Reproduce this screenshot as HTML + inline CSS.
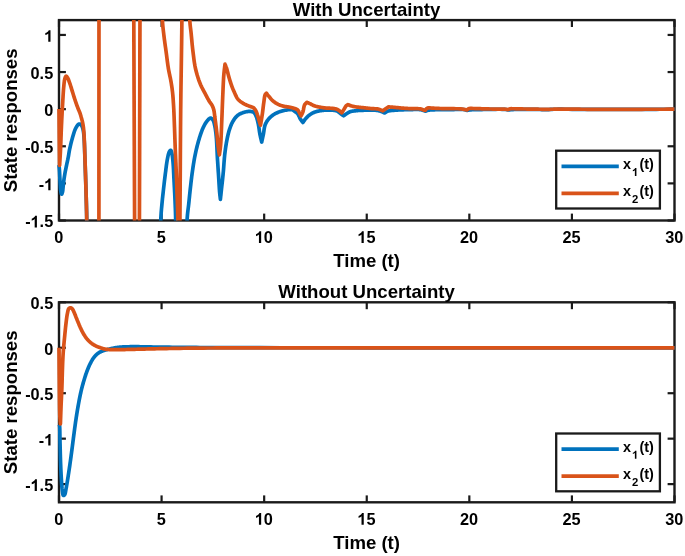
<!DOCTYPE html>
<html><head><meta charset="utf-8"><style>
html,body{margin:0;padding:0;background:#fff;width:685px;height:556px;overflow:hidden}
svg{display:block;will-change:transform}
text{font-family:"Liberation Sans",sans-serif;font-weight:bold;fill:#000}
.tk{font-size:16.3px}
.tl{font-size:18.6px}
.lg{font-size:14.4px}
.sb{font-size:11.3px}
</style></head><body>
<svg width="685" height="556" viewBox="0 0 685 556">
<defs>
<clipPath id="c1"><rect x="40" y="20.1" width="640" height="200.4"/></clipPath>
<clipPath id="c2"><rect x="40" y="302.3" width="640" height="200.0"/></clipPath>
</defs>
<rect x="59.0" y="20.1" width="615.5" height="200.4" fill="#fff" stroke="#1a1a1a" stroke-width="2.4"/>
<line x1="59.00" y1="220.5" x2="59.00" y2="213.6" stroke="#1a1a1a" stroke-width="2.2"/>
<line x1="59.00" y1="20.1" x2="59.00" y2="27.0" stroke="#1a1a1a" stroke-width="2.2"/>
<text x="58.70" y="242.90" class="tk" text-anchor="middle">0</text>
<line x1="161.58" y1="220.5" x2="161.58" y2="213.6" stroke="#1a1a1a" stroke-width="2.2"/>
<line x1="161.58" y1="20.1" x2="161.58" y2="27.0" stroke="#1a1a1a" stroke-width="2.2"/>
<text x="161.28" y="242.90" class="tk" text-anchor="middle">5</text>
<line x1="264.17" y1="220.5" x2="264.17" y2="213.6" stroke="#1a1a1a" stroke-width="2.2"/>
<line x1="264.17" y1="20.1" x2="264.17" y2="27.0" stroke="#1a1a1a" stroke-width="2.2"/>
<text x="263.87" y="242.90" class="tk" text-anchor="middle"> 0</text>
<path d="M800 0L520 0L520 1052C440 977 300 893 150 848L150 1102C230 1128 320 1175 410 1245C500 1315 555 1390 580 1466L800 1466Z" transform="translate(254.80,242.90) scale(0.00796,-0.00796)" fill="#000"/>
<line x1="366.75" y1="220.5" x2="366.75" y2="213.6" stroke="#1a1a1a" stroke-width="2.2"/>
<line x1="366.75" y1="20.1" x2="366.75" y2="27.0" stroke="#1a1a1a" stroke-width="2.2"/>
<text x="366.45" y="242.90" class="tk" text-anchor="middle"> 5</text>
<path d="M800 0L520 0L520 1052C440 977 300 893 150 848L150 1102C230 1128 320 1175 410 1245C500 1315 555 1390 580 1466L800 1466Z" transform="translate(357.38,242.90) scale(0.00796,-0.00796)" fill="#000"/>
<line x1="469.33" y1="220.5" x2="469.33" y2="213.6" stroke="#1a1a1a" stroke-width="2.2"/>
<line x1="469.33" y1="20.1" x2="469.33" y2="27.0" stroke="#1a1a1a" stroke-width="2.2"/>
<text x="469.03" y="242.90" class="tk" text-anchor="middle">20</text>
<line x1="571.92" y1="220.5" x2="571.92" y2="213.6" stroke="#1a1a1a" stroke-width="2.2"/>
<line x1="571.92" y1="20.1" x2="571.92" y2="27.0" stroke="#1a1a1a" stroke-width="2.2"/>
<text x="571.62" y="242.90" class="tk" text-anchor="middle">25</text>
<line x1="674.50" y1="220.5" x2="674.50" y2="213.6" stroke="#1a1a1a" stroke-width="2.2"/>
<line x1="674.50" y1="20.1" x2="674.50" y2="27.0" stroke="#1a1a1a" stroke-width="2.2"/>
<text x="674.20" y="242.90" class="tk" text-anchor="middle">30</text>
<line x1="59.0" y1="34.94" x2="65.9" y2="34.94" stroke="#1a1a1a" stroke-width="2.2"/>
<line x1="674.5" y1="34.94" x2="667.6" y2="34.94" stroke="#1a1a1a" stroke-width="2.2"/>
<text x="53.20" y="41.84" class="tk" text-anchor="end"> </text>
<path d="M800 0L520 0L520 1052C440 977 300 893 150 848L150 1102C230 1128 320 1175 410 1245C500 1315 555 1390 580 1466L800 1466Z" transform="translate(44.13,41.84) scale(0.00796,-0.00796)" fill="#000"/>
<line x1="59.0" y1="72.06" x2="65.9" y2="72.06" stroke="#1a1a1a" stroke-width="2.2"/>
<line x1="674.5" y1="72.06" x2="667.6" y2="72.06" stroke="#1a1a1a" stroke-width="2.2"/>
<text x="53.20" y="78.96" class="tk" text-anchor="end">0.5</text>
<line x1="59.0" y1="109.17" x2="65.9" y2="109.17" stroke="#1a1a1a" stroke-width="2.2"/>
<line x1="674.5" y1="109.17" x2="667.6" y2="109.17" stroke="#1a1a1a" stroke-width="2.2"/>
<text x="53.20" y="116.07" class="tk" text-anchor="end">0</text>
<line x1="59.0" y1="146.28" x2="65.9" y2="146.28" stroke="#1a1a1a" stroke-width="2.2"/>
<line x1="674.5" y1="146.28" x2="667.6" y2="146.28" stroke="#1a1a1a" stroke-width="2.2"/>
<text x="53.20" y="153.18" class="tk" text-anchor="end">-0.5</text>
<line x1="59.0" y1="183.39" x2="65.9" y2="183.39" stroke="#1a1a1a" stroke-width="2.2"/>
<line x1="674.5" y1="183.39" x2="667.6" y2="183.39" stroke="#1a1a1a" stroke-width="2.2"/>
<text x="53.20" y="190.29" class="tk" text-anchor="end">- </text>
<path d="M800 0L520 0L520 1052C440 977 300 893 150 848L150 1102C230 1128 320 1175 410 1245C500 1315 555 1390 580 1466L800 1466Z" transform="translate(44.13,190.29) scale(0.00796,-0.00796)" fill="#000"/>
<line x1="59.0" y1="220.50" x2="65.9" y2="220.50" stroke="#1a1a1a" stroke-width="2.2"/>
<line x1="674.5" y1="220.50" x2="667.6" y2="220.50" stroke="#1a1a1a" stroke-width="2.2"/>
<text x="53.20" y="227.40" class="tk" text-anchor="end">- .5</text>
<path d="M800 0L520 0L520 1052C440 977 300 893 150 848L150 1102C230 1128 320 1175 410 1245C500 1315 555 1390 580 1466L800 1466Z" transform="translate(30.54,227.40) scale(0.00796,-0.00796)" fill="#000"/>
<text x="366.6" y="15.50" class="tl" text-anchor="middle">With Uncertainty</text>
<text x="366.6" y="266.90" class="tl" text-anchor="middle">Time (t)</text>
<text x="0" y="0" class="tl" text-anchor="middle" transform="translate(16.6,120.30) rotate(-90)">State responses</text>
<path d="M59.00,165.00 L59.04,165.50 L59.09,166.00 L59.13,166.50 L59.17,167.00 L59.22,167.50 L59.26,168.00 L59.31,168.50 L59.35,169.00 L59.39,169.50 L59.43,170.00 L59.47,170.50 L59.50,171.00 L59.53,171.50 L59.56,171.99 L59.59,172.49 L59.61,172.98 L59.64,173.48 L59.66,173.97 L59.68,174.47 L59.70,174.97 L59.72,175.47 L59.75,175.97 L59.77,176.48 L59.80,177.00 L59.83,177.57 L59.86,178.14 L59.89,178.72 L59.92,179.30 L59.95,179.89 L59.99,180.48 L60.02,181.07 L60.05,181.67 L60.09,182.26 L60.13,182.84 L60.16,183.42 L60.20,184.00 L60.24,184.56 L60.27,185.12 L60.30,185.69 L60.33,186.25 L60.36,186.82 L60.39,187.38 L60.43,187.94 L60.47,188.48 L60.52,189.01 L60.57,189.53 L60.63,190.02 L60.70,190.50 L60.76,190.87 L60.82,191.26 L60.89,191.67 L60.96,192.08 L61.03,192.49 L61.11,192.87 L61.18,193.23 L61.26,193.54 L61.35,193.81 L61.43,194.02 L61.51,194.15 L61.60,194.20 L61.67,194.18 L61.74,194.11 L61.82,194.00 L61.90,193.85 L61.98,193.66 L62.06,193.46 L62.14,193.23 L62.22,192.99 L62.30,192.74 L62.37,192.49 L62.44,192.24 L62.50,192.00 L62.59,191.61 L62.67,191.18 L62.74,190.72 L62.80,190.23 L62.86,189.72 L62.91,189.19 L62.95,188.66 L63.00,188.11 L63.05,187.57 L63.09,187.04 L63.14,186.51 L63.20,186.00 L63.26,185.50 L63.31,185.01 L63.37,184.51 L63.42,184.02 L63.48,183.52 L63.53,183.03 L63.59,182.53 L63.64,182.03 L63.70,181.53 L63.77,181.03 L63.83,180.52 L63.90,180.00 L63.98,179.43 L64.06,178.86 L64.14,178.29 L64.23,177.70 L64.32,177.12 L64.41,176.53 L64.50,175.94 L64.60,175.35 L64.70,174.76 L64.80,174.17 L64.90,173.58 L65.00,173.00 L65.11,172.42 L65.21,171.84 L65.32,171.26 L65.44,170.69 L65.55,170.12 L65.67,169.54 L65.79,168.96 L65.91,168.38 L66.03,167.80 L66.15,167.21 L66.27,166.61 L66.40,166.00 L66.54,165.32 L66.69,164.63 L66.84,163.93 L66.99,163.23 L67.15,162.52 L67.30,161.81 L67.46,161.09 L67.61,160.37 L67.77,159.65 L67.91,158.93 L68.06,158.21 L68.20,157.50 L68.33,156.79 L68.46,156.09 L68.58,155.38 L68.69,154.68 L68.80,153.98 L68.91,153.28 L69.03,152.57 L69.14,151.86 L69.27,151.14 L69.40,150.40 L69.54,149.66 L69.70,148.90 L69.90,147.99 L70.11,147.04 L70.33,146.07 L70.56,145.09 L70.80,144.09 L71.04,143.09 L71.30,142.09 L71.55,141.09 L71.81,140.11 L72.08,139.15 L72.34,138.21 L72.60,137.30 L72.83,136.52 L73.05,135.75 L73.28,134.97 L73.50,134.21 L73.73,133.45 L73.96,132.71 L74.20,131.98 L74.44,131.27 L74.69,130.58 L74.95,129.93 L75.22,129.30 L75.50,128.70 L75.72,128.26 L75.95,127.82 L76.19,127.38 L76.43,126.95 L76.68,126.54 L76.93,126.14 L77.18,125.77 L77.44,125.42 L77.68,125.10 L77.93,124.83 L78.17,124.59 L78.40,124.40 L78.52,124.32 L78.64,124.24 L78.76,124.18 L78.88,124.12 L79.00,124.08 L79.11,124.04 L79.23,124.01 L79.34,123.99 L79.46,123.98 L79.57,123.98 L79.69,123.98 L79.80,124.00 L79.92,124.03 L80.04,124.07 L80.17,124.13 L80.29,124.19 L80.41,124.27 L80.53,124.35 L80.65,124.45 L80.76,124.55 L80.88,124.66 L80.99,124.77 L81.10,124.88 L81.20,125.00 L81.33,125.16 L81.45,125.33 L81.57,125.51 L81.69,125.70 L81.80,125.90 L81.91,126.11 L82.02,126.33 L82.12,126.55 L82.22,126.78 L82.32,127.02 L82.41,127.26 L82.50,127.50 L82.61,127.82 L82.71,128.14 L82.81,128.48 L82.90,128.82 L82.99,129.18 L83.07,129.54 L83.15,129.92 L83.22,130.31 L83.29,130.71 L83.36,131.13 L83.43,131.56 L83.50,132.00 L83.60,132.69 L83.68,133.41 L83.76,134.16 L83.84,134.95 L83.90,135.76 L83.97,136.60 L84.03,137.46 L84.08,138.34 L84.14,139.24 L84.19,140.15 L84.25,141.07 L84.30,142.00 L84.37,143.18 L84.42,144.38 L84.48,145.61 L84.53,146.85 L84.58,148.12 L84.62,149.42 L84.66,150.75 L84.71,152.12 L84.75,153.52 L84.80,154.97 L84.85,156.46 L84.90,158.00 L84.98,160.30 L85.07,162.74 L85.16,165.29 L85.26,167.95 L85.35,170.68 L85.45,173.47 L85.55,176.29 L85.64,179.14 L85.74,181.98 L85.83,184.80 L85.92,187.58 L86.00,190.30 L86.08,192.93 L86.15,195.52 L86.23,198.09 L86.30,200.65 L86.38,203.20 L86.44,205.76 L86.51,208.34 L86.58,210.96 L86.64,213.62 L86.69,216.34 L86.75,219.13 L86.80,222.00 L86.86,225.65 L86.90,229.43 L86.95,233.30 L86.98,237.26 L87.01,241.30 L87.04,245.38 L87.07,249.50 L87.09,253.63 L87.12,257.77 L87.14,261.89 L87.17,265.97 L87.20,270.00 L93.31,270.00 L99.42,270.00 L105.53,270.00 L111.63,270.00 L117.74,270.00 L123.85,270.00 L129.96,270.00 L136.07,270.00 L142.18,270.00 L148.28,270.00 L154.39,270.00 L160.50,270.00 L160.52,265.69 L160.52,261.24 L160.52,256.68 L160.51,252.08 L160.51,247.47 L160.50,242.92 L160.51,238.46 L160.53,234.15 L160.56,230.04 L160.61,226.18 L160.69,222.62 L160.80,219.40 L160.87,217.76 L160.95,216.22 L161.04,214.78 L161.13,213.42 L161.22,212.12 L161.33,210.86 L161.43,209.64 L161.54,208.44 L161.65,207.23 L161.77,206.02 L161.88,204.78 L162.00,203.50 L162.12,202.23 L162.24,200.96 L162.37,199.70 L162.49,198.44 L162.63,197.18 L162.76,195.92 L162.90,194.67 L163.04,193.42 L163.18,192.16 L163.32,190.91 L163.46,189.66 L163.60,188.40 L163.74,187.14 L163.89,185.87 L164.03,184.61 L164.18,183.34 L164.33,182.07 L164.47,180.80 L164.63,179.53 L164.78,178.27 L164.93,177.02 L165.09,175.77 L165.24,174.53 L165.40,173.30 L165.55,172.13 L165.70,170.95 L165.84,169.76 L165.99,168.57 L166.14,167.39 L166.29,166.22 L166.44,165.06 L166.60,163.93 L166.77,162.82 L166.94,161.74 L167.11,160.70 L167.30,159.70 L167.45,158.94 L167.59,158.18 L167.74,157.41 L167.89,156.66 L168.05,155.92 L168.21,155.20 L168.37,154.51 L168.54,153.87 L168.72,153.26 L168.90,152.71 L169.10,152.22 L169.30,151.80 L169.41,151.61 L169.52,151.41 L169.64,151.23 L169.76,151.05 L169.89,150.88 L170.01,150.73 L170.13,150.59 L170.25,150.48 L170.37,150.39 L170.49,150.33 L170.60,150.30 L170.70,150.30 L170.83,150.36 L170.95,150.49 L171.06,150.67 L171.17,150.90 L171.27,151.17 L171.37,151.47 L171.46,151.81 L171.56,152.16 L171.64,152.52 L171.73,152.89 L171.82,153.25 L171.90,153.60 L172.03,154.15 L172.14,154.73 L172.25,155.34 L172.35,155.99 L172.44,156.66 L172.53,157.35 L172.61,158.07 L172.69,158.82 L172.77,159.58 L172.85,160.37 L172.92,161.18 L173.00,162.00 L173.11,163.26 L173.21,164.59 L173.30,166.00 L173.39,167.46 L173.47,168.97 L173.55,170.51 L173.62,172.09 L173.70,173.68 L173.77,175.27 L173.84,176.87 L173.92,178.45 L174.00,180.00 L174.09,181.63 L174.17,183.27 L174.26,184.91 L174.35,186.57 L174.44,188.23 L174.52,189.90 L174.61,191.58 L174.69,193.26 L174.77,194.94 L174.85,196.63 L174.93,198.31 L175.00,200.00 L175.07,201.70 L175.14,203.37 L175.21,205.01 L175.27,206.64 L175.34,208.27 L175.40,209.92 L175.45,211.60 L175.51,213.33 L175.56,215.12 L175.61,216.99 L175.66,218.94 L175.70,221.00 L175.76,224.37 L175.80,227.98 L175.84,231.81 L175.87,235.82 L175.89,239.97 L175.91,244.22 L175.92,248.55 L175.93,252.91 L175.95,257.27 L175.96,261.60 L175.98,265.85 L176.00,270.00 L176.91,270.00 L177.82,270.00 L178.73,270.00 L179.63,270.00 L180.54,270.00 L181.45,270.00 L182.36,270.00 L183.27,270.00 L184.18,270.00 L185.08,270.00 L185.99,270.00 L186.90,270.00 L186.91,265.73 L186.89,261.32 L186.87,256.81 L186.84,252.26 L186.81,247.70 L186.78,243.19 L186.77,238.78 L186.77,234.51 L186.80,230.43 L186.86,226.59 L186.96,223.03 L187.10,219.80 L187.20,218.11 L187.32,216.52 L187.45,215.02 L187.58,213.59 L187.73,212.23 L187.88,210.92 L188.04,209.64 L188.20,208.39 L188.36,207.14 L188.51,205.88 L188.66,204.61 L188.80,203.30 L188.93,202.06 L189.05,200.84 L189.17,199.63 L189.29,198.43 L189.41,197.24 L189.53,196.05 L189.65,194.86 L189.78,193.67 L189.90,192.47 L190.03,191.26 L190.16,190.04 L190.30,188.80 L190.45,187.46 L190.60,186.10 L190.76,184.73 L190.91,183.35 L191.07,181.96 L191.23,180.57 L191.40,179.17 L191.57,177.77 L191.74,176.37 L191.92,174.98 L192.11,173.59 L192.30,172.20 L192.50,170.81 L192.70,169.42 L192.90,168.02 L193.11,166.62 L193.32,165.22 L193.54,163.82 L193.77,162.43 L194.00,161.04 L194.24,159.66 L194.48,158.29 L194.74,156.94 L195.00,155.60 L195.26,154.35 L195.52,153.10 L195.79,151.87 L196.06,150.64 L196.34,149.41 L196.63,148.20 L196.92,146.99 L197.22,145.80 L197.53,144.61 L197.85,143.43 L198.17,142.26 L198.50,141.10 L198.82,140.01 L199.14,138.92 L199.46,137.83 L199.80,136.75 L200.13,135.67 L200.48,134.60 L200.83,133.55 L201.19,132.52 L201.56,131.52 L201.93,130.54 L202.31,129.60 L202.70,128.70 L203.02,128.00 L203.34,127.31 L203.66,126.63 L203.99,125.97 L204.32,125.32 L204.66,124.69 L205.00,124.08 L205.35,123.50 L205.70,122.93 L206.06,122.39 L206.43,121.88 L206.80,121.40 L207.09,121.03 L207.40,120.66 L207.71,120.28 L208.02,119.91 L208.34,119.56 L208.66,119.22 L208.98,118.92 L209.30,118.65 L209.61,118.43 L209.92,118.26 L210.21,118.14 L210.50,118.10 L210.73,118.12 L210.95,118.17 L211.18,118.27 L211.41,118.40 L211.63,118.56 L211.84,118.74 L212.06,118.94 L212.26,119.16 L212.46,119.39 L212.65,119.62 L212.83,119.86 L213.00,120.10 L213.20,120.41 L213.37,120.74 L213.53,121.09 L213.68,121.46 L213.81,121.85 L213.94,122.25 L214.05,122.68 L214.16,123.11 L214.27,123.57 L214.38,124.03 L214.49,124.51 L214.60,125.00 L214.77,125.75 L214.93,126.53 L215.08,127.34 L215.22,128.19 L215.36,129.07 L215.49,129.98 L215.62,130.92 L215.75,131.88 L215.86,132.88 L215.98,133.89 L216.09,134.94 L216.20,136.00 L216.34,137.56 L216.47,139.21 L216.58,140.95 L216.68,142.75 L216.78,144.60 L216.87,146.49 L216.95,148.40 L217.03,150.32 L217.12,152.23 L217.21,154.13 L217.30,155.99 L217.40,157.80 L217.50,159.52 L217.61,161.25 L217.72,162.99 L217.83,164.73 L217.94,166.46 L218.06,168.18 L218.17,169.88 L218.28,171.57 L218.39,173.23 L218.50,174.86 L218.60,176.45 L218.70,178.00 L218.78,179.27 L218.86,180.53 L218.93,181.79 L219.00,183.02 L219.07,184.24 L219.15,185.44 L219.22,186.62 L219.29,187.76 L219.36,188.88 L219.44,189.96 L219.52,191.00 L219.60,192.00 L219.66,192.69 L219.73,193.35 L219.79,193.99 L219.86,194.61 L219.92,195.21 L219.99,195.80 L220.06,196.38 L220.13,196.95 L220.20,197.53 L220.27,198.11 L220.33,198.70 L220.40,199.30 L220.50,198.35 L220.60,197.39 L220.70,196.43 L220.81,195.46 L220.91,194.49 L221.01,193.53 L221.11,192.57 L221.21,191.62 L221.31,190.69 L221.41,189.77 L221.50,188.87 L221.60,188.00 L221.68,187.29 L221.76,186.59 L221.83,185.91 L221.91,185.25 L221.98,184.59 L222.06,183.94 L222.13,183.30 L222.21,182.65 L222.28,182.00 L222.35,181.34 L222.43,180.68 L222.50,180.00 L222.58,179.28 L222.65,178.56 L222.73,177.85 L222.80,177.15 L222.87,176.43 L222.95,175.71 L223.02,174.98 L223.09,174.23 L223.17,173.46 L223.24,172.67 L223.32,171.85 L223.40,171.00 L223.51,169.77 L223.61,168.46 L223.71,167.09 L223.81,165.68 L223.92,164.22 L224.02,162.74 L224.13,161.25 L224.25,159.76 L224.37,158.27 L224.51,156.81 L224.65,155.38 L224.80,154.00 L224.95,152.75 L225.11,151.50 L225.27,150.26 L225.43,149.03 L225.61,147.80 L225.79,146.58 L225.97,145.38 L226.16,144.19 L226.36,143.02 L226.57,141.86 L226.78,140.72 L227.00,139.60 L227.20,138.64 L227.39,137.68 L227.59,136.74 L227.79,135.81 L228.00,134.89 L228.22,133.98 L228.44,133.09 L228.67,132.20 L228.91,131.33 L229.16,130.48 L229.42,129.63 L229.70,128.80 L229.96,128.07 L230.22,127.34 L230.49,126.62 L230.76,125.91 L231.04,125.21 L231.33,124.52 L231.63,123.85 L231.94,123.19 L232.27,122.54 L232.60,121.91 L232.94,121.29 L233.30,120.70 L233.63,120.18 L233.96,119.67 L234.31,119.17 L234.66,118.68 L235.02,118.20 L235.39,117.73 L235.77,117.28 L236.15,116.85 L236.55,116.43 L236.96,116.03 L237.37,115.65 L237.80,115.30 L238.21,114.99 L238.63,114.70 L239.06,114.43 L239.50,114.18 L239.95,113.94 L240.41,113.72 L240.87,113.51 L241.34,113.31 L241.80,113.12 L242.27,112.94 L242.74,112.77 L243.20,112.60 L243.65,112.45 L244.11,112.30 L244.57,112.16 L245.04,112.04 L245.52,111.92 L245.99,111.81 L246.45,111.71 L246.91,111.62 L247.36,111.55 L247.79,111.49 L248.21,111.44 L248.60,111.40 L248.87,111.38 L249.14,111.37 L249.40,111.37 L249.65,111.38 L249.90,111.39 L250.14,111.41 L250.38,111.43 L250.61,111.46 L250.84,111.49 L251.06,111.52 L251.28,111.56 L251.50,111.60 L251.68,111.63 L251.86,111.66 L252.04,111.69 L252.21,111.72 L252.38,111.75 L252.54,111.78 L252.71,111.83 L252.87,111.88 L253.03,111.94 L253.19,112.01 L253.34,112.10 L253.50,112.20 L253.71,112.36 L253.92,112.55 L254.12,112.76 L254.33,112.99 L254.52,113.24 L254.72,113.51 L254.91,113.79 L255.09,114.09 L255.28,114.40 L255.45,114.72 L255.63,115.06 L255.80,115.40 L256.04,115.93 L256.28,116.51 L256.50,117.13 L256.72,117.78 L256.93,118.46 L257.13,119.17 L257.32,119.89 L257.50,120.63 L257.69,121.37 L257.86,122.12 L258.03,122.86 L258.20,123.60 L258.38,124.43 L258.54,125.29 L258.69,126.16 L258.83,127.05 L258.96,127.95 L259.09,128.86 L259.22,129.76 L259.34,130.66 L259.47,131.55 L259.61,132.42 L259.75,133.27 L259.90,134.10 L260.04,134.80 L260.18,135.48 L260.33,136.16 L260.48,136.82 L260.63,137.48 L260.78,138.12 L260.94,138.77 L261.09,139.41 L261.24,140.05 L261.40,140.70 L261.55,141.35 L261.70,142.00 L261.84,141.34 L261.98,140.69 L262.13,140.04 L262.27,139.39 L262.41,138.74 L262.55,138.09 L262.69,137.44 L262.84,136.79 L262.98,136.12 L263.12,135.46 L263.26,134.78 L263.40,134.10 L263.54,133.34 L263.67,132.55 L263.79,131.75 L263.91,130.93 L264.02,130.10 L264.14,129.28 L264.27,128.47 L264.41,127.66 L264.57,126.88 L264.75,126.12 L264.96,125.39 L265.20,124.70 L265.42,124.14 L265.66,123.60 L265.91,123.08 L266.18,122.57 L266.46,122.07 L266.75,121.58 L267.05,121.11 L267.36,120.65 L267.68,120.20 L268.01,119.75 L268.35,119.32 L268.70,118.90 L269.04,118.50 L269.40,118.12 L269.76,117.74 L270.13,117.38 L270.52,117.03 L270.91,116.68 L271.31,116.35 L271.71,116.02 L272.13,115.70 L272.54,115.39 L272.97,115.09 L273.40,114.80 L273.85,114.51 L274.31,114.23 L274.77,113.95 L275.25,113.69 L275.73,113.44 L276.22,113.19 L276.72,112.95 L277.21,112.73 L277.71,112.51 L278.21,112.30 L278.71,112.09 L279.20,111.90 L279.67,111.72 L280.15,111.55 L280.62,111.39 L281.09,111.24 L281.57,111.10 L282.04,110.96 L282.52,110.84 L283.01,110.72 L283.50,110.60 L283.99,110.49 L284.49,110.39 L285.00,110.30 L285.57,110.20 L286.18,110.09 L286.80,109.97 L287.43,109.87 L288.08,109.77 L288.72,109.68 L289.35,109.61 L289.96,109.57 L290.55,109.55 L291.11,109.56 L291.63,109.61 L292.10,109.70 L292.40,109.79 L292.68,109.90 L292.95,110.04 L293.20,110.19 L293.44,110.35 L293.67,110.52 L293.89,110.70 L294.11,110.88 L294.33,111.07 L294.55,111.25 L294.77,111.43 L295.00,111.60 L295.23,111.76 L295.45,111.91 L295.68,112.05 L295.90,112.19 L296.12,112.34 L296.35,112.49 L296.56,112.64 L296.78,112.81 L296.99,112.98 L297.20,113.17 L297.40,113.38 L297.60,113.60 L297.86,113.94 L298.10,114.32 L298.33,114.74 L298.56,115.19 L298.77,115.66 L298.99,116.14 L299.20,116.63 L299.41,117.11 L299.62,117.59 L299.84,118.05 L300.07,118.49 L300.30,118.90 L300.51,119.23 L300.72,119.55 L300.93,119.86 L301.15,120.17 L301.37,120.46 L301.58,120.76 L301.80,121.05 L302.02,121.33 L302.24,121.62 L302.46,121.91 L302.68,122.20 L302.90,122.50 L303.11,122.20 L303.33,121.90 L303.53,121.59 L303.74,121.29 L303.95,120.99 L304.16,120.68 L304.37,120.38 L304.58,120.08 L304.80,119.78 L305.03,119.48 L305.26,119.19 L305.50,118.90 L305.76,118.60 L306.02,118.29 L306.29,117.99 L306.57,117.69 L306.84,117.39 L307.13,117.09 L307.42,116.79 L307.72,116.50 L308.02,116.22 L308.34,115.94 L308.66,115.67 L309.00,115.40 L309.39,115.11 L309.78,114.82 L310.19,114.53 L310.62,114.25 L311.05,113.97 L311.49,113.71 L311.94,113.44 L312.40,113.19 L312.86,112.95 L313.33,112.72 L313.81,112.50 L314.30,112.30 L314.83,112.09 L315.38,111.90 L315.94,111.73 L316.50,111.56 L317.08,111.41 L317.66,111.27 L318.26,111.14 L318.85,111.01 L319.46,110.90 L320.07,110.79 L320.68,110.69 L321.30,110.60 L321.99,110.50 L322.70,110.42 L323.42,110.34 L324.16,110.27 L324.90,110.21 L325.65,110.16 L326.39,110.12 L327.13,110.10 L327.87,110.08 L328.59,110.08 L329.31,110.08 L330.00,110.10 L330.62,110.12 L331.25,110.14 L331.87,110.17 L332.50,110.21 L333.12,110.25 L333.73,110.30 L334.33,110.37 L334.91,110.45 L335.47,110.56 L336.01,110.68 L336.52,110.83 L337.00,111.00 L337.35,111.16 L337.69,111.34 L338.00,111.54 L338.30,111.75 L338.59,111.98 L338.87,112.21 L339.14,112.45 L339.41,112.69 L339.68,112.93 L339.95,113.16 L340.22,113.39 L340.50,113.60 L340.76,113.79 L341.03,113.98 L341.29,114.17 L341.55,114.35 L341.80,114.53 L342.06,114.71 L342.32,114.89 L342.57,115.07 L342.83,115.26 L343.09,115.44 L343.34,115.62 L343.60,115.80 L343.86,115.62 L344.11,115.43 L344.37,115.24 L344.62,115.05 L344.88,114.87 L345.13,114.68 L345.39,114.49 L345.64,114.31 L345.90,114.13 L346.17,113.95 L346.43,113.77 L346.70,113.60 L346.98,113.43 L347.25,113.25 L347.53,113.08 L347.81,112.90 L348.09,112.73 L348.37,112.56 L348.66,112.40 L348.95,112.24 L349.25,112.09 L349.56,111.95 L349.88,111.82 L350.20,111.70 L350.58,111.58 L350.97,111.47 L351.37,111.37 L351.77,111.28 L352.18,111.21 L352.61,111.14 L353.04,111.08 L353.47,111.02 L353.92,110.96 L354.37,110.91 L354.83,110.86 L355.30,110.80 L355.88,110.73 L356.48,110.67 L357.08,110.62 L357.70,110.57 L358.33,110.52 L358.97,110.48 L359.62,110.44 L360.29,110.41 L360.97,110.38 L361.66,110.35 L362.37,110.32 L363.10,110.30 L364.10,110.27 L365.17,110.23 L366.30,110.19 L367.47,110.15 L368.67,110.12 L369.87,110.10 L371.06,110.09 L372.23,110.09 L373.35,110.11 L374.42,110.15 L375.40,110.21 L376.30,110.30 L376.83,110.37 L377.33,110.45 L377.81,110.54 L378.27,110.64 L378.72,110.74 L379.15,110.85 L379.56,110.97 L379.97,111.09 L380.36,111.22 L380.75,111.34 L381.13,111.47 L381.50,111.60 L381.79,111.71 L382.07,111.81 L382.34,111.93 L382.60,112.04 L382.86,112.16 L383.11,112.28 L383.36,112.40 L383.60,112.52 L383.85,112.64 L384.09,112.76 L384.34,112.88 L384.60,113.00 L384.85,112.85 L385.10,112.69 L385.34,112.53 L385.58,112.36 L385.82,112.20 L386.07,112.04 L386.31,111.88 L386.57,111.73 L386.83,111.58 L387.11,111.44 L387.39,111.32 L387.70,111.20 L388.12,111.07 L388.55,110.95 L388.99,110.85 L389.45,110.76 L389.93,110.69 L390.42,110.62 L390.93,110.57 L391.46,110.51 L392.01,110.46 L392.58,110.41 L393.18,110.36 L393.80,110.30 L394.89,110.21 L396.09,110.12 L397.39,110.04 L398.77,109.97 L400.19,109.90 L401.65,109.84 L403.13,109.79 L404.60,109.74 L406.04,109.70 L407.43,109.66 L408.76,109.63 L410.00,109.60 L410.94,109.58 L411.87,109.55 L412.81,109.53 L413.73,109.50 L414.64,109.48 L415.52,109.47 L416.37,109.46 L417.19,109.46 L417.97,109.47 L418.70,109.50 L419.38,109.54 L420.00,109.60 L420.31,109.64 L420.61,109.68 L420.89,109.73 L421.15,109.79 L421.40,109.84 L421.63,109.90 L421.86,109.96 L422.09,110.03 L422.32,110.09 L422.54,110.16 L422.77,110.23 L423.00,110.30 L423.22,110.37 L423.43,110.44 L423.64,110.51 L423.85,110.58 L424.06,110.66 L424.27,110.73 L424.47,110.81 L424.68,110.89 L424.88,110.97 L425.09,111.05 L425.29,111.12 L425.50,111.20 L425.71,111.12 L425.91,111.04 L426.11,110.96 L426.31,110.88 L426.51,110.80 L426.71,110.72 L426.91,110.64 L427.12,110.56 L427.33,110.49 L427.54,110.42 L427.77,110.36 L428.00,110.30 L428.29,110.24 L428.57,110.19 L428.86,110.14 L429.15,110.10 L429.45,110.07 L429.76,110.04 L430.08,110.02 L430.41,109.99 L430.77,109.97 L431.15,109.95 L431.56,109.93 L432.00,109.90 L433.05,109.85 L434.28,109.80 L435.64,109.77 L437.12,109.73 L438.70,109.71 L440.33,109.68 L442.00,109.66 L443.69,109.65 L445.36,109.64 L446.98,109.62 L448.54,109.61 L450.00,109.60 L451.26,109.58 L452.56,109.56 L453.87,109.53 L455.18,109.50 L456.48,109.47 L457.76,109.44 L458.99,109.42 L460.17,109.42 L461.27,109.43 L462.29,109.46 L463.20,109.52 L464.00,109.60 L464.33,109.65 L464.63,109.70 L464.91,109.76 L465.17,109.83 L465.41,109.90 L465.64,109.97 L465.87,110.04 L466.09,110.11 L466.30,110.19 L466.53,110.26 L466.76,110.33 L467.00,110.40 L467.24,110.36 L467.48,110.31 L467.71,110.27 L467.93,110.22 L468.16,110.18 L468.39,110.14 L468.62,110.09 L468.87,110.05 L469.12,110.01 L469.40,109.97 L469.69,109.93 L470.00,109.90 L470.61,109.85 L471.27,109.80 L471.98,109.77 L472.73,109.74 L473.52,109.71 L474.35,109.69 L475.22,109.68 L476.12,109.66 L477.05,109.65 L478.00,109.63 L478.99,109.62 L480.00,109.60 L481.76,109.56 L483.78,109.52 L485.99,109.47 L488.34,109.41 L490.77,109.36 L493.22,109.32 L495.63,109.28 L497.94,109.26 L500.09,109.26 L502.02,109.28 L503.68,109.32 L505.00,109.40 L505.41,109.44 L505.77,109.48 L506.10,109.52 L506.41,109.57 L506.69,109.62 L506.95,109.68 L507.21,109.73 L507.45,109.79 L507.70,109.84 L507.95,109.90 L508.22,109.95 L508.50,110.00 L508.78,109.97 L509.05,109.93 L509.31,109.90 L509.57,109.86 L509.82,109.83 L510.08,109.79 L510.35,109.76 L510.63,109.72 L510.93,109.69 L511.26,109.66 L511.61,109.63 L512.00,109.60 L513.01,109.54 L514.19,109.49 L515.52,109.45 L516.96,109.42 L518.51,109.39 L520.13,109.36 L521.79,109.34 L523.48,109.32 L525.17,109.31 L526.84,109.31 L528.46,109.30 L530.00,109.30 L531.54,109.31 L533.15,109.33 L534.80,109.36 L536.48,109.40 L538.16,109.45 L539.81,109.49 L541.42,109.53 L542.96,109.57 L544.41,109.60 L545.75,109.62 L546.95,109.62 L548.00,109.60 L548.42,109.58 L548.79,109.56 L549.11,109.54 L549.40,109.51 L549.66,109.49 L549.92,109.46 L550.19,109.43 L550.47,109.40 L550.78,109.37 L551.13,109.34 L551.53,109.32 L552.00,109.30 L553.80,109.25 L556.07,109.23 L558.74,109.22 L561.74,109.22 L565.01,109.24 L568.49,109.26 L572.10,109.29 L575.79,109.32 L579.49,109.35 L583.13,109.37 L586.66,109.39 L590.00,109.40 L593.36,109.40 L596.73,109.41 L600.11,109.41 L603.51,109.41 L606.91,109.42 L610.33,109.42 L613.75,109.42 L617.19,109.42 L620.63,109.42 L624.08,109.41 L627.54,109.41 L631.00,109.40 L634.58,109.39 L638.18,109.38 L641.78,109.36 L645.40,109.35 L649.03,109.33 L652.67,109.31 L656.31,109.29 L659.95,109.27 L663.59,109.25 L667.24,109.24 L670.87,109.22 L674.50,109.20" fill="none" stroke="#0072BD" stroke-width="3.7" stroke-linejoin="round" stroke-linecap="butt" clip-path="url(#c1)"/>
<path d="M59.00,109.10 L59.02,111.68 L59.05,114.28 L59.07,116.89 L59.10,119.51 L59.12,122.13 L59.15,124.74 L59.17,127.34 L59.20,129.92 L59.22,132.48 L59.25,135.02 L59.27,137.53 L59.30,140.00 L59.32,142.21 L59.35,144.39 L59.37,146.55 L59.40,148.68 L59.42,150.80 L59.45,152.90 L59.47,155.00 L59.50,157.09 L59.52,159.18 L59.55,161.28 L59.57,163.38 L59.60,165.50 L59.68,164.22 L59.75,162.96 L59.83,161.71 L59.90,160.47 L59.98,159.23 L60.06,157.98 L60.13,156.72 L60.21,155.44 L60.28,154.13 L60.36,152.80 L60.43,151.42 L60.50,150.00 L60.59,148.12 L60.67,146.16 L60.75,144.14 L60.84,142.06 L60.91,139.94 L60.99,137.79 L61.07,135.63 L61.15,133.46 L61.23,131.30 L61.32,129.16 L61.41,127.06 L61.50,125.00 L61.59,123.06 L61.68,121.12 L61.78,119.18 L61.88,117.24 L61.98,115.31 L62.08,113.39 L62.18,111.49 L62.28,109.61 L62.39,107.76 L62.49,105.94 L62.60,104.15 L62.70,102.40 L62.79,100.94 L62.87,99.47 L62.96,98.02 L63.04,96.58 L63.12,95.15 L63.21,93.76 L63.30,92.39 L63.39,91.06 L63.48,89.76 L63.58,88.52 L63.69,87.33 L63.80,86.20 L63.88,85.44 L63.95,84.70 L64.03,83.96 L64.10,83.25 L64.18,82.55 L64.26,81.88 L64.34,81.23 L64.43,80.61 L64.53,80.03 L64.64,79.48 L64.76,78.97 L64.90,78.50 L64.98,78.24 L65.07,77.98 L65.16,77.72 L65.25,77.46 L65.35,77.22 L65.45,76.99 L65.55,76.78 L65.65,76.60 L65.76,76.44 L65.87,76.32 L65.98,76.24 L66.10,76.20 L66.21,76.20 L66.33,76.25 L66.45,76.32 L66.58,76.42 L66.71,76.55 L66.84,76.70 L66.97,76.86 L67.10,77.04 L67.23,77.23 L67.35,77.42 L67.48,77.61 L67.60,77.80 L67.79,78.12 L67.97,78.46 L68.15,78.84 L68.33,79.24 L68.50,79.67 L68.67,80.11 L68.84,80.57 L69.01,81.04 L69.18,81.53 L69.35,82.01 L69.53,82.51 L69.70,83.00 L69.92,83.64 L70.15,84.30 L70.37,84.99 L70.60,85.70 L70.82,86.42 L71.05,87.16 L71.27,87.90 L71.50,88.65 L71.72,89.40 L71.95,90.14 L72.17,90.88 L72.40,91.60 L72.62,92.32 L72.85,93.04 L73.07,93.76 L73.29,94.49 L73.52,95.21 L73.74,95.94 L73.96,96.66 L74.19,97.38 L74.41,98.09 L74.64,98.80 L74.87,99.50 L75.10,100.20 L75.32,100.86 L75.54,101.51 L75.77,102.17 L75.99,102.82 L76.22,103.47 L76.45,104.12 L76.68,104.76 L76.90,105.39 L77.13,106.01 L77.36,106.62 L77.58,107.22 L77.80,107.80 L77.99,108.28 L78.18,108.76 L78.37,109.22 L78.56,109.67 L78.75,110.11 L78.94,110.56 L79.13,110.99 L79.31,111.43 L79.49,111.87 L79.67,112.31 L79.84,112.75 L80.00,113.20 L80.15,113.65 L80.30,114.09 L80.45,114.54 L80.59,114.99 L80.72,115.44 L80.85,115.89 L80.98,116.34 L81.11,116.79 L81.23,117.25 L81.36,117.70 L81.48,118.15 L81.60,118.60 L81.72,119.05 L81.84,119.49 L81.96,119.94 L82.07,120.38 L82.19,120.83 L82.30,121.28 L82.41,121.72 L82.52,122.17 L82.62,122.63 L82.72,123.08 L82.81,123.54 L82.90,124.00 L82.99,124.48 L83.07,124.96 L83.15,125.44 L83.22,125.92 L83.29,126.40 L83.35,126.88 L83.42,127.37 L83.48,127.87 L83.53,128.38 L83.59,128.91 L83.65,129.44 L83.70,130.00 L83.77,130.74 L83.83,131.49 L83.89,132.26 L83.94,133.05 L83.99,133.86 L84.04,134.69 L84.08,135.53 L84.13,136.39 L84.17,137.27 L84.21,138.16 L84.26,139.07 L84.30,140.00 L84.36,141.21 L84.41,142.43 L84.46,143.68 L84.51,144.95 L84.56,146.25 L84.60,147.58 L84.65,148.94 L84.70,150.35 L84.74,151.79 L84.79,153.28 L84.85,154.81 L84.90,156.40 L84.98,158.80 L85.07,161.36 L85.16,164.05 L85.26,166.84 L85.35,169.72 L85.45,172.66 L85.55,175.64 L85.64,178.63 L85.74,181.62 L85.83,184.57 L85.92,187.48 L86.00,190.30 L86.08,192.96 L86.15,195.57 L86.22,198.15 L86.29,200.70 L86.36,203.25 L86.43,205.81 L86.49,208.38 L86.56,210.99 L86.62,213.64 L86.68,216.35 L86.74,219.13 L86.80,222.00 L86.87,225.65 L86.93,229.43 L87.00,233.30 L87.06,237.26 L87.11,241.30 L87.17,245.38 L87.22,249.50 L87.28,253.63 L87.33,257.77 L87.39,261.89 L87.44,265.97 L87.50,270.00 L88.45,270.00 L89.40,270.00 L90.35,270.00 L91.30,270.00 L92.25,270.00 L93.20,270.00 L94.15,270.00 L95.10,270.00 L96.05,270.00 L97.00,270.00 L97.95,270.00 L98.90,270.00 L98.91,245.00 L98.92,220.00 L98.93,195.00 L98.93,170.00 L98.94,145.00 L98.95,120.00 L98.96,95.00 L98.97,70.00 L98.97,45.00 L98.98,20.00 L98.99,-5.00 L99.00,-30.00 L101.88,-30.00 L104.77,-30.00 L107.65,-30.00 L110.53,-30.00 L113.42,-30.00 L116.30,-30.00 L119.18,-30.00 L122.07,-30.00 L124.95,-30.00 L127.83,-30.00 L130.72,-30.00 L133.60,-30.00 L133.70,-5.00 L133.80,20.00 L133.90,45.00 L134.00,70.00 L134.10,95.00 L134.20,120.00 L134.30,145.00 L134.40,170.00 L134.50,195.00 L134.60,220.00 L134.70,245.00 L134.80,270.00 L135.18,270.00 L135.55,270.00 L135.93,270.00 L136.30,270.00 L136.68,270.00 L137.05,270.00 L137.43,270.00 L137.80,270.00 L138.18,270.00 L138.55,270.00 L138.92,270.00 L139.30,270.00 L139.37,245.00 L139.43,220.00 L139.50,195.00 L139.57,170.00 L139.63,145.00 L139.70,120.00 L139.77,95.00 L139.83,70.00 L139.90,45.00 L139.97,20.00 L140.03,-5.00 L140.10,-30.00 L141.92,-30.00 L143.73,-30.00 L145.55,-30.00 L147.37,-30.00 L149.18,-30.00 L151.00,-30.00 L152.82,-30.00 L154.63,-30.00 L156.45,-30.00 L158.27,-30.00 L160.08,-30.00 L161.90,-30.00 L161.93,-25.75 L161.95,-21.35 L161.96,-16.86 L161.96,-12.31 L161.96,-7.77 L161.97,-3.28 L161.98,1.12 L162.02,5.37 L162.07,9.43 L162.15,13.26 L162.26,16.80 L162.40,20.00 L162.50,21.66 L162.60,23.22 L162.72,24.68 L162.84,26.06 L162.97,27.39 L163.10,28.66 L163.24,29.91 L163.39,31.13 L163.54,32.36 L163.69,33.61 L163.84,34.88 L164.00,36.20 L164.16,37.55 L164.33,38.90 L164.51,40.25 L164.69,41.60 L164.87,42.95 L165.06,44.30 L165.25,45.65 L165.44,47.00 L165.64,48.35 L165.83,49.70 L166.01,51.05 L166.20,52.40 L166.38,53.76 L166.56,55.12 L166.73,56.49 L166.91,57.87 L167.08,59.24 L167.25,60.62 L167.43,61.98 L167.61,63.34 L167.80,64.68 L167.99,66.01 L168.19,67.31 L168.40,68.60 L168.60,69.74 L168.81,70.86 L169.03,71.98 L169.26,73.08 L169.49,74.17 L169.72,75.25 L169.95,76.32 L170.18,77.39 L170.40,78.45 L170.61,79.50 L170.81,80.55 L171.00,81.60 L171.16,82.56 L171.32,83.51 L171.47,84.44 L171.61,85.36 L171.75,86.28 L171.89,87.19 L172.02,88.11 L172.14,89.04 L172.26,89.97 L172.38,90.93 L172.49,91.90 L172.60,92.90 L172.72,94.08 L172.83,95.28 L172.94,96.50 L173.04,97.73 L173.14,98.99 L173.23,100.25 L173.31,101.53 L173.39,102.82 L173.47,104.11 L173.55,105.40 L173.63,106.70 L173.70,108.00 L173.78,109.37 L173.84,110.74 L173.91,112.10 L173.97,113.47 L174.02,114.85 L174.08,116.23 L174.13,117.63 L174.18,119.05 L174.23,120.50 L174.29,121.97 L174.34,123.47 L174.40,125.00 L174.47,126.92 L174.55,128.91 L174.62,130.96 L174.69,133.06 L174.77,135.19 L174.84,137.34 L174.92,139.49 L174.99,141.65 L175.07,143.79 L175.14,145.90 L175.22,147.98 L175.30,150.00 L175.37,151.79 L175.44,153.51 L175.52,155.18 L175.59,156.83 L175.66,158.46 L175.74,160.09 L175.81,161.75 L175.89,163.45 L175.96,165.21 L176.04,167.04 L176.12,168.96 L176.20,171.00 L176.33,174.25 L176.46,177.72 L176.60,181.38 L176.74,185.19 L176.89,189.14 L177.03,193.18 L177.18,197.30 L177.32,201.46 L177.45,205.64 L177.58,209.81 L177.69,213.94 L177.80,218.00 L177.90,222.24 L177.99,226.51 L178.06,230.81 L178.13,235.14 L178.20,239.48 L178.26,243.84 L178.31,248.20 L178.37,252.57 L178.42,256.94 L178.48,261.30 L178.54,265.66 L178.60,270.00 L178.68,270.00 L178.77,270.00 L178.85,270.00 L178.93,270.00 L179.02,270.00 L179.10,270.00 L179.18,270.00 L179.27,270.00 L179.35,270.00 L179.43,270.00 L179.52,270.00 L179.60,270.00 L179.65,262.46 L179.70,254.87 L179.75,247.24 L179.80,239.58 L179.85,231.93 L179.90,224.29 L179.95,216.70 L180.00,209.16 L180.05,201.71 L180.10,194.35 L180.15,187.10 L180.20,180.00 L180.24,173.89 L180.28,167.93 L180.31,162.09 L180.35,156.34 L180.38,150.66 L180.42,145.00 L180.46,139.34 L180.50,133.66 L180.54,127.91 L180.59,122.07 L180.64,116.11 L180.70,110.00 L180.78,102.81 L180.87,95.35 L180.97,87.68 L181.08,79.86 L181.20,71.97 L181.32,64.06 L181.43,56.21 L181.54,48.47 L181.65,40.92 L181.75,33.61 L181.83,26.62 L181.90,20.00 L181.94,15.32 L181.98,10.82 L182.01,6.47 L182.04,2.25 L182.06,-1.87 L182.08,-5.91 L182.10,-9.91 L182.12,-13.87 L182.14,-17.84 L182.16,-21.84 L182.18,-25.88 L182.20,-30.00 L182.80,-30.00 L183.40,-30.00 L184.00,-30.00 L184.60,-30.00 L185.20,-30.00 L185.80,-30.00 L186.40,-30.00 L187.00,-30.00 L187.60,-30.00 L188.20,-30.00 L188.80,-30.00 L189.40,-30.00 L189.42,-25.69 L189.43,-21.21 L189.43,-16.61 L189.43,-11.95 L189.42,-7.30 L189.42,-2.70 L189.43,1.79 L189.45,6.09 L189.49,10.17 L189.56,13.95 L189.66,17.38 L189.80,20.40 L189.88,21.74 L189.97,22.96 L190.07,24.09 L190.17,25.14 L190.28,26.14 L190.39,27.09 L190.51,28.02 L190.63,28.95 L190.74,29.89 L190.86,30.87 L190.98,31.90 L191.10,33.00 L191.24,34.39 L191.37,35.82 L191.51,37.28 L191.65,38.76 L191.79,40.28 L191.93,41.80 L192.07,43.34 L192.22,44.89 L192.38,46.43 L192.55,47.97 L192.72,49.49 L192.90,51.00 L193.09,52.51 L193.27,54.03 L193.46,55.56 L193.65,57.09 L193.84,58.62 L194.05,60.14 L194.26,61.66 L194.49,63.17 L194.74,64.66 L195.00,66.13 L195.29,67.58 L195.60,69.00 L195.90,70.28 L196.22,71.55 L196.55,72.81 L196.90,74.06 L197.25,75.30 L197.63,76.52 L198.01,77.73 L198.41,78.92 L198.81,80.10 L199.23,81.25 L199.66,82.39 L200.10,83.50 L200.51,84.48 L200.93,85.44 L201.38,86.40 L201.83,87.34 L202.30,88.26 L202.77,89.18 L203.24,90.07 L203.71,90.95 L204.18,91.82 L204.63,92.66 L205.07,93.49 L205.50,94.30 L205.84,94.94 L206.17,95.58 L206.49,96.21 L206.81,96.82 L207.13,97.42 L207.45,98.01 L207.76,98.59 L208.07,99.16 L208.38,99.72 L208.69,100.26 L208.99,100.79 L209.30,101.30 L209.55,101.70 L209.81,102.08 L210.06,102.45 L210.32,102.81 L210.58,103.16 L210.84,103.50 L211.09,103.85 L211.33,104.19 L211.57,104.53 L211.79,104.88 L212.00,105.23 L212.20,105.60 L212.37,105.95 L212.54,106.30 L212.69,106.65 L212.84,106.99 L212.98,107.34 L213.11,107.70 L213.24,108.06 L213.36,108.42 L213.47,108.80 L213.58,109.19 L213.69,109.59 L213.80,110.00 L213.93,110.55 L214.04,111.11 L214.15,111.68 L214.24,112.27 L214.32,112.88 L214.40,113.50 L214.48,114.14 L214.56,114.79 L214.64,115.47 L214.72,116.16 L214.80,116.87 L214.90,117.60 L215.05,118.68 L215.20,119.83 L215.36,121.04 L215.53,122.30 L215.69,123.59 L215.86,124.91 L216.03,126.24 L216.20,127.58 L216.36,128.90 L216.51,130.20 L216.66,131.47 L216.80,132.70 L216.92,133.79 L217.02,134.89 L217.13,135.97 L217.22,137.05 L217.31,138.12 L217.40,139.18 L217.49,140.23 L217.59,141.28 L217.68,142.30 L217.78,143.32 L217.89,144.32 L218.00,145.30 L218.11,146.14 L218.21,146.96 L218.33,147.77 L218.44,148.57 L218.56,149.36 L218.68,150.14 L218.80,150.91 L218.92,151.68 L219.04,152.46 L219.16,153.23 L219.28,154.01 L219.40,154.80 L219.50,154.02 L219.60,153.27 L219.71,152.53 L219.81,151.80 L219.92,151.07 L220.02,150.34 L220.12,149.58 L220.23,148.81 L220.32,148.00 L220.42,147.15 L220.51,146.25 L220.60,145.30 L220.73,143.62 L220.86,141.80 L220.97,139.85 L221.08,137.79 L221.18,135.66 L221.27,133.45 L221.36,131.21 L221.45,128.94 L221.54,126.68 L221.62,124.44 L221.71,122.24 L221.80,120.10 L221.89,118.00 L221.98,115.88 L222.06,113.75 L222.14,111.62 L222.22,109.49 L222.30,107.37 L222.38,105.25 L222.46,103.15 L222.55,101.07 L222.63,99.02 L222.71,96.99 L222.80,95.00 L222.88,93.23 L222.95,91.46 L223.03,89.70 L223.10,87.94 L223.17,86.19 L223.25,84.47 L223.33,82.78 L223.41,81.13 L223.50,79.51 L223.59,77.95 L223.69,76.44 L223.80,75.00 L223.89,73.98 L223.98,73.01 L224.07,72.07 L224.17,71.15 L224.27,70.26 L224.38,69.39 L224.48,68.53 L224.59,67.68 L224.69,66.82 L224.80,65.96 L224.90,65.09 L225.00,64.20 L225.12,64.51 L225.25,64.81 L225.37,65.11 L225.50,65.40 L225.62,65.70 L225.75,65.99 L225.87,66.29 L225.99,66.61 L226.12,66.93 L226.25,67.27 L226.37,67.62 L226.50,68.00 L226.69,68.61 L226.89,69.28 L227.08,69.98 L227.28,70.72 L227.47,71.48 L227.67,72.27 L227.87,73.07 L228.07,73.87 L228.27,74.68 L228.48,75.47 L228.69,76.25 L228.90,77.00 L229.11,77.73 L229.33,78.47 L229.55,79.21 L229.77,79.95 L229.99,80.69 L230.22,81.42 L230.45,82.15 L230.68,82.87 L230.91,83.58 L231.14,84.27 L231.37,84.94 L231.60,85.60 L231.79,86.13 L231.98,86.65 L232.17,87.15 L232.36,87.63 L232.55,88.11 L232.74,88.59 L232.93,89.06 L233.13,89.54 L233.34,90.01 L233.55,90.50 L233.77,90.99 L234.00,91.50 L234.27,92.11 L234.55,92.74 L234.83,93.40 L235.12,94.06 L235.42,94.73 L235.72,95.40 L236.04,96.06 L236.36,96.71 L236.70,97.33 L237.05,97.93 L237.42,98.49 L237.80,99.00 L238.13,99.40 L238.48,99.78 L238.84,100.15 L239.22,100.49 L239.60,100.82 L239.98,101.14 L240.37,101.44 L240.77,101.73 L241.16,102.01 L241.54,102.28 L241.93,102.54 L242.30,102.80 L242.61,103.01 L242.92,103.20 L243.23,103.39 L243.53,103.56 L243.84,103.73 L244.14,103.90 L244.45,104.05 L244.75,104.21 L245.06,104.36 L245.37,104.50 L245.68,104.65 L246.00,104.80 L246.33,104.95 L246.65,105.09 L246.99,105.23 L247.32,105.37 L247.66,105.50 L248.00,105.63 L248.34,105.76 L248.68,105.89 L249.01,106.02 L249.35,106.14 L249.68,106.27 L250.00,106.40 L250.30,106.52 L250.61,106.62 L250.92,106.72 L251.23,106.82 L251.53,106.91 L251.84,107.01 L252.14,107.11 L252.43,107.22 L252.71,107.34 L252.99,107.48 L253.25,107.63 L253.50,107.80 L253.73,107.99 L253.96,108.18 L254.17,108.39 L254.38,108.62 L254.58,108.85 L254.77,109.09 L254.95,109.34 L255.13,109.60 L255.30,109.87 L255.47,110.14 L255.64,110.42 L255.80,110.70 L255.98,111.04 L256.16,111.39 L256.32,111.76 L256.48,112.14 L256.63,112.53 L256.77,112.93 L256.91,113.33 L257.05,113.74 L257.19,114.15 L257.32,114.57 L257.46,114.98 L257.60,115.40 L257.75,115.86 L257.90,116.34 L258.05,116.83 L258.20,117.32 L258.34,117.82 L258.49,118.32 L258.63,118.83 L258.76,119.32 L258.90,119.81 L259.04,120.29 L259.17,120.75 L259.30,121.20 L259.41,121.56 L259.51,121.91 L259.61,122.25 L259.71,122.59 L259.81,122.92 L259.91,123.25 L260.01,123.57 L260.11,123.89 L260.20,124.22 L260.30,124.54 L260.40,124.87 L260.50,125.20 L260.65,124.28 L260.80,123.37 L260.96,122.46 L261.11,121.55 L261.27,120.64 L261.42,119.72 L261.57,118.81 L261.72,117.89 L261.87,116.98 L262.02,116.05 L262.16,115.13 L262.30,114.20 L262.44,113.23 L262.57,112.25 L262.70,111.25 L262.82,110.24 L262.94,109.23 L263.06,108.23 L263.18,107.23 L263.30,106.24 L263.42,105.27 L263.54,104.32 L263.67,103.39 L263.80,102.50 L263.91,101.76 L264.01,101.01 L264.10,100.26 L264.20,99.50 L264.30,98.76 L264.40,98.03 L264.50,97.33 L264.62,96.68 L264.74,96.06 L264.88,95.51 L265.03,95.02 L265.20,94.60 L265.29,94.43 L265.38,94.28 L265.48,94.14 L265.57,94.02 L265.68,93.91 L265.78,93.80 L265.88,93.70 L265.99,93.61 L266.09,93.51 L266.20,93.42 L266.30,93.31 L266.40,93.20 L266.59,93.44 L266.78,93.68 L266.96,93.91 L267.15,94.15 L267.33,94.39 L267.52,94.62 L267.70,94.86 L267.89,95.10 L268.09,95.34 L268.29,95.59 L268.49,95.84 L268.70,96.10 L268.96,96.42 L269.23,96.75 L269.50,97.10 L269.77,97.44 L270.05,97.80 L270.34,98.15 L270.63,98.51 L270.93,98.86 L271.24,99.21 L271.55,99.55 L271.87,99.88 L272.20,100.20 L272.55,100.52 L272.91,100.84 L273.28,101.16 L273.65,101.47 L274.04,101.78 L274.43,102.08 L274.82,102.37 L275.23,102.66 L275.64,102.93 L276.05,103.20 L276.47,103.45 L276.90,103.70 L277.35,103.94 L277.80,104.17 L278.26,104.40 L278.73,104.61 L279.21,104.81 L279.69,105.00 L280.18,105.19 L280.68,105.37 L281.18,105.54 L281.68,105.70 L282.19,105.85 L282.70,106.00 L283.26,106.14 L283.83,106.27 L284.42,106.38 L285.02,106.49 L285.63,106.58 L286.24,106.66 L286.84,106.75 L287.44,106.83 L288.03,106.91 L288.61,107.00 L289.16,107.09 L289.70,107.20 L290.13,107.29 L290.55,107.38 L290.97,107.47 L291.38,107.56 L291.78,107.66 L292.18,107.75 L292.56,107.85 L292.95,107.95 L293.32,108.05 L293.69,108.16 L294.05,108.28 L294.40,108.40 L294.70,108.51 L294.99,108.61 L295.28,108.71 L295.57,108.81 L295.86,108.92 L296.13,109.03 L296.40,109.15 L296.66,109.28 L296.91,109.41 L297.16,109.56 L297.38,109.72 L297.60,109.90 L297.80,110.09 L297.98,110.30 L298.15,110.52 L298.30,110.76 L298.45,111.00 L298.59,111.26 L298.73,111.51 L298.86,111.77 L298.99,112.04 L299.12,112.30 L299.26,112.55 L299.40,112.80 L299.55,113.05 L299.69,113.30 L299.83,113.54 L299.97,113.79 L300.12,114.04 L300.26,114.29 L300.40,114.55 L300.54,114.80 L300.68,115.05 L300.82,115.30 L300.96,115.55 L301.10,115.80 L301.25,115.48 L301.40,115.17 L301.56,114.86 L301.72,114.55 L301.87,114.24 L302.03,113.93 L302.18,113.62 L302.33,113.30 L302.48,112.97 L302.62,112.63 L302.76,112.27 L302.90,111.90 L303.06,111.38 L303.20,110.82 L303.33,110.22 L303.45,109.59 L303.57,108.95 L303.68,108.30 L303.80,107.66 L303.93,107.03 L304.07,106.43 L304.22,105.87 L304.40,105.36 L304.60,104.90 L304.75,104.62 L304.92,104.36 L305.09,104.12 L305.27,103.90 L305.46,103.69 L305.65,103.49 L305.84,103.29 L306.04,103.10 L306.23,102.91 L306.42,102.71 L306.61,102.51 L306.80,102.30 L307.06,102.41 L307.31,102.51 L307.56,102.61 L307.82,102.72 L308.07,102.82 L308.32,102.92 L308.57,103.03 L308.83,103.13 L309.09,103.24 L309.36,103.36 L309.62,103.48 L309.90,103.60 L310.24,103.76 L310.59,103.94 L310.94,104.12 L311.29,104.32 L311.65,104.52 L312.02,104.72 L312.39,104.91 L312.76,105.11 L313.14,105.30 L313.53,105.48 L313.91,105.65 L314.30,105.80 L314.71,105.95 L315.13,106.08 L315.55,106.21 L315.97,106.33 L316.40,106.44 L316.83,106.54 L317.27,106.64 L317.71,106.74 L318.15,106.83 L318.60,106.92 L319.05,107.01 L319.50,107.10 L319.99,107.19 L320.48,107.29 L320.98,107.37 L321.47,107.46 L321.98,107.54 L322.49,107.61 L323.00,107.69 L323.51,107.76 L324.03,107.82 L324.55,107.89 L325.07,107.94 L325.60,108.00 L326.18,108.05 L326.77,108.09 L327.38,108.12 L327.99,108.15 L328.61,108.17 L329.23,108.18 L329.84,108.20 L330.45,108.23 L331.04,108.26 L331.62,108.29 L332.17,108.34 L332.70,108.40 L333.10,108.45 L333.50,108.51 L333.88,108.56 L334.26,108.62 L334.63,108.68 L335.00,108.74 L335.35,108.82 L335.70,108.89 L336.04,108.98 L336.37,109.08 L336.69,109.18 L337.00,109.30 L337.26,109.41 L337.51,109.53 L337.75,109.66 L337.98,109.79 L338.21,109.94 L338.43,110.08 L338.65,110.23 L338.87,110.38 L339.08,110.54 L339.29,110.69 L339.49,110.85 L339.70,111.00 L339.89,111.14 L340.07,111.29 L340.25,111.44 L340.43,111.58 L340.60,111.74 L340.77,111.89 L340.95,112.04 L341.11,112.19 L341.28,112.35 L341.45,112.50 L341.63,112.65 L341.80,112.80 L341.98,112.51 L342.17,112.22 L342.35,111.92 L342.53,111.63 L342.72,111.34 L342.90,111.05 L343.08,110.76 L343.27,110.47 L343.45,110.17 L343.63,109.88 L343.82,109.59 L344.00,109.30 L344.18,109.00 L344.36,108.69 L344.54,108.37 L344.72,108.05 L344.90,107.73 L345.08,107.42 L345.26,107.11 L345.44,106.81 L345.63,106.52 L345.81,106.26 L346.00,106.02 L346.20,105.80 L346.34,105.66 L346.49,105.54 L346.64,105.42 L346.79,105.32 L346.94,105.22 L347.09,105.13 L347.24,105.04 L347.39,104.96 L347.55,104.87 L347.70,104.79 L347.85,104.70 L348.00,104.60 L348.25,104.70 L348.49,104.80 L348.74,104.91 L348.98,105.01 L349.22,105.12 L349.46,105.22 L349.71,105.32 L349.95,105.42 L350.21,105.52 L350.46,105.62 L350.73,105.71 L351.00,105.80 L351.32,105.90 L351.65,106.00 L351.98,106.09 L352.32,106.18 L352.66,106.26 L353.01,106.34 L353.37,106.43 L353.74,106.50 L354.11,106.58 L354.50,106.65 L354.89,106.73 L355.30,106.80 L355.87,106.89 L356.46,106.98 L357.07,107.06 L357.71,107.14 L358.36,107.21 L359.02,107.28 L359.70,107.35 L360.38,107.42 L361.06,107.49 L361.75,107.56 L362.43,107.63 L363.10,107.70 L363.82,107.78 L364.55,107.86 L365.30,107.94 L366.05,108.02 L366.81,108.10 L367.57,108.18 L368.32,108.26 L369.07,108.34 L369.80,108.41 L370.52,108.48 L371.22,108.54 L371.90,108.60 L372.46,108.64 L373.01,108.67 L373.56,108.70 L374.11,108.72 L374.65,108.73 L375.19,108.75 L375.70,108.77 L376.20,108.79 L376.69,108.83 L377.15,108.87 L377.59,108.93 L378.00,109.00 L378.26,109.06 L378.51,109.12 L378.74,109.19 L378.96,109.26 L379.18,109.34 L379.39,109.41 L379.59,109.49 L379.80,109.58 L380.00,109.66 L380.19,109.74 L380.40,109.82 L380.60,109.90 L380.79,109.97 L380.98,110.05 L381.16,110.12 L381.35,110.20 L381.53,110.27 L381.71,110.35 L381.89,110.42 L382.07,110.50 L382.25,110.57 L382.44,110.65 L382.62,110.72 L382.80,110.80 L383.06,110.62 L383.32,110.43 L383.58,110.24 L383.84,110.05 L384.10,109.87 L384.36,109.68 L384.63,109.49 L384.88,109.31 L385.14,109.13 L385.40,108.95 L385.65,108.77 L385.90,108.60 L386.12,108.45 L386.34,108.30 L386.56,108.16 L386.78,108.01 L387.00,107.87 L387.21,107.73 L387.43,107.59 L387.64,107.46 L387.85,107.32 L388.07,107.18 L388.28,107.04 L388.50,106.90 L388.94,106.93 L389.37,106.96 L389.79,107.00 L390.22,107.03 L390.64,107.06 L391.07,107.09 L391.50,107.12 L391.94,107.15 L392.38,107.19 L392.84,107.22 L393.31,107.26 L393.80,107.30 L394.45,107.36 L395.13,107.42 L395.84,107.48 L396.57,107.55 L397.31,107.62 L398.06,107.70 L398.81,107.77 L399.57,107.84 L400.32,107.91 L401.06,107.98 L401.79,108.04 L402.50,108.10 L403.14,108.15 L403.77,108.20 L404.38,108.24 L404.99,108.29 L405.59,108.33 L406.19,108.37 L406.80,108.41 L407.41,108.45 L408.04,108.49 L408.67,108.53 L409.33,108.56 L410.00,108.60 L410.87,108.63 L411.80,108.65 L412.79,108.66 L413.81,108.67 L414.84,108.67 L415.87,108.68 L416.87,108.69 L417.84,108.71 L418.76,108.75 L419.60,108.81 L420.36,108.89 L421.00,109.00 L421.28,109.07 L421.53,109.14 L421.77,109.23 L421.99,109.31 L422.20,109.41 L422.40,109.50 L422.59,109.60 L422.77,109.69 L422.95,109.78 L423.13,109.86 L423.31,109.93 L423.50,110.00 L423.65,110.05 L423.80,110.09 L423.94,110.13 L424.09,110.16 L424.23,110.19 L424.37,110.22 L424.51,110.25 L424.64,110.28 L424.78,110.31 L424.92,110.34 L425.06,110.37 L425.20,110.40 L425.31,110.26 L425.41,110.11 L425.52,109.96 L425.62,109.81 L425.72,109.65 L425.83,109.50 L425.93,109.36 L426.04,109.21 L426.15,109.07 L426.26,108.94 L426.38,108.82 L426.50,108.70 L426.61,108.60 L426.73,108.51 L426.85,108.43 L426.98,108.36 L427.10,108.28 L427.23,108.21 L427.36,108.14 L427.49,108.08 L427.62,108.01 L427.75,107.94 L427.87,107.87 L428.00,107.80 L428.99,107.86 L429.96,107.92 L430.92,107.98 L431.87,108.04 L432.82,108.11 L433.77,108.17 L434.74,108.23 L435.73,108.29 L436.75,108.34 L437.79,108.40 L438.87,108.45 L440.00,108.50 L441.67,108.55 L443.52,108.59 L445.51,108.62 L447.60,108.64 L449.73,108.66 L451.86,108.68 L453.94,108.70 L455.93,108.73 L457.77,108.77 L459.43,108.83 L460.86,108.90 L462.00,109.00 L462.35,109.04 L462.67,109.09 L462.96,109.14 L463.23,109.19 L463.48,109.25 L463.71,109.30 L463.94,109.36 L464.15,109.41 L464.36,109.46 L464.57,109.51 L464.78,109.56 L465.00,109.60 L465.18,109.63 L465.36,109.66 L465.53,109.69 L465.70,109.71 L465.86,109.74 L466.02,109.76 L466.19,109.78 L466.35,109.81 L466.51,109.83 L466.67,109.85 L466.83,109.88 L467.00,109.90 L467.12,109.81 L467.25,109.71 L467.37,109.61 L467.49,109.51 L467.62,109.41 L467.74,109.31 L467.86,109.21 L467.99,109.12 L468.11,109.03 L468.24,108.94 L468.37,108.87 L468.50,108.80 L468.62,108.75 L468.74,108.70 L468.87,108.66 L468.99,108.62 L469.12,108.59 L469.24,108.56 L469.37,108.54 L469.50,108.51 L469.62,108.49 L469.75,108.46 L469.87,108.43 L470.00,108.40 L471.68,108.45 L473.37,108.50 L475.07,108.56 L476.77,108.61 L478.48,108.67 L480.18,108.72 L481.87,108.78 L483.55,108.83 L485.20,108.88 L486.83,108.92 L488.43,108.96 L490.00,109.00 L491.36,109.02 L492.76,109.04 L494.17,109.05 L495.58,109.05 L496.98,109.06 L498.35,109.06 L499.67,109.06 L500.93,109.07 L502.11,109.09 L503.19,109.11 L504.16,109.15 L505.00,109.20 L505.33,109.23 L505.63,109.26 L505.91,109.29 L506.17,109.32 L506.41,109.35 L506.64,109.39 L506.87,109.42 L507.09,109.46 L507.30,109.50 L507.53,109.53 L507.76,109.57 L508.00,109.60 L508.12,109.55 L508.25,109.50 L508.37,109.44 L508.50,109.39 L508.62,109.34 L508.75,109.28 L508.87,109.23 L509.00,109.18 L509.12,109.13 L509.25,109.08 L509.37,109.04 L509.50,109.00 L509.62,108.97 L509.75,108.93 L509.87,108.91 L510.00,108.88 L510.12,108.86 L510.25,108.83 L510.37,108.81 L510.50,108.79 L510.62,108.77 L510.75,108.75 L510.87,108.72 L511.00,108.70 L512.58,108.73 L514.17,108.77 L515.76,108.80 L517.35,108.84 L518.94,108.88 L520.53,108.91 L522.12,108.95 L523.70,108.98 L525.29,109.01 L526.86,109.04 L528.43,109.07 L530.00,109.10 L531.53,109.12 L533.07,109.15 L534.62,109.17 L536.17,109.20 L537.72,109.22 L539.26,109.24 L540.78,109.26 L542.29,109.28 L543.77,109.29 L545.22,109.30 L546.63,109.30 L548.00,109.30 L549.07,109.29 L550.08,109.28 L551.04,109.27 L551.98,109.25 L552.90,109.23 L553.81,109.20 L554.74,109.18 L555.69,109.16 L556.68,109.14 L557.72,109.12 L558.82,109.11 L560.00,109.10 L562.01,109.10 L564.16,109.10 L566.44,109.11 L568.83,109.13 L571.31,109.15 L573.86,109.17 L576.48,109.20 L579.15,109.22 L581.85,109.25 L584.57,109.27 L587.29,109.29 L590.00,109.30 L593.19,109.31 L596.45,109.32 L599.77,109.32 L603.15,109.32 L606.57,109.32 L610.02,109.32 L613.51,109.32 L617.01,109.32 L620.51,109.31 L624.02,109.31 L627.52,109.30 L631.00,109.30 L634.58,109.30 L638.18,109.29 L641.78,109.28 L645.40,109.27 L649.03,109.27 L652.67,109.26 L656.31,109.25 L659.95,109.24 L663.59,109.23 L667.24,109.22 L670.87,109.21 L674.50,109.20" fill="none" stroke="#D95319" stroke-width="3.7" stroke-linejoin="round" stroke-linecap="butt" clip-path="url(#c1)"/>
<rect x="556.2" y="150.7" width="103.7" height="57.80000000000001" fill="#fff" stroke="#1a1a1a" stroke-width="2.3"/>
<line x1="561.5" y1="166.39999999999998" x2="618.8" y2="166.39999999999998" stroke="#0072BD" stroke-width="3.7"/>
<line x1="561.5" y1="193.29999999999998" x2="618.8" y2="193.29999999999998" stroke="#D95319" stroke-width="3.7"/>
<text x="623.1" y="169.00" class="lg">x<tspan class="sb" dx="0.9" dy="7"> </tspan><tspan dx="1.2" dy="-7">(t)</tspan></text>
<path d="M800 0L520 0L520 1052C440 977 300 893 150 848L150 1102C230 1128 320 1175 410 1245C500 1315 555 1390 580 1466L800 1466Z" transform="translate(632.01,176.00) scale(0.00552,-0.00552)" fill="#000"/>
<text x="623.1" y="195.90" class="lg">x<tspan class="sb" dx="0.9" dy="7">2</tspan><tspan dx="1.2" dy="-7">(t)</tspan></text>
<rect x="59.0" y="302.3" width="615.5" height="200.0" fill="#fff" stroke="#1a1a1a" stroke-width="2.4"/>
<line x1="59.00" y1="502.3" x2="59.00" y2="495.40000000000003" stroke="#1a1a1a" stroke-width="2.2"/>
<line x1="59.00" y1="302.3" x2="59.00" y2="309.2" stroke="#1a1a1a" stroke-width="2.2"/>
<text x="58.70" y="524.70" class="tk" text-anchor="middle">0</text>
<line x1="161.58" y1="502.3" x2="161.58" y2="495.40000000000003" stroke="#1a1a1a" stroke-width="2.2"/>
<line x1="161.58" y1="302.3" x2="161.58" y2="309.2" stroke="#1a1a1a" stroke-width="2.2"/>
<text x="161.28" y="524.70" class="tk" text-anchor="middle">5</text>
<line x1="264.17" y1="502.3" x2="264.17" y2="495.40000000000003" stroke="#1a1a1a" stroke-width="2.2"/>
<line x1="264.17" y1="302.3" x2="264.17" y2="309.2" stroke="#1a1a1a" stroke-width="2.2"/>
<text x="263.87" y="524.70" class="tk" text-anchor="middle"> 0</text>
<path d="M800 0L520 0L520 1052C440 977 300 893 150 848L150 1102C230 1128 320 1175 410 1245C500 1315 555 1390 580 1466L800 1466Z" transform="translate(254.80,524.70) scale(0.00796,-0.00796)" fill="#000"/>
<line x1="366.75" y1="502.3" x2="366.75" y2="495.40000000000003" stroke="#1a1a1a" stroke-width="2.2"/>
<line x1="366.75" y1="302.3" x2="366.75" y2="309.2" stroke="#1a1a1a" stroke-width="2.2"/>
<text x="366.45" y="524.70" class="tk" text-anchor="middle"> 5</text>
<path d="M800 0L520 0L520 1052C440 977 300 893 150 848L150 1102C230 1128 320 1175 410 1245C500 1315 555 1390 580 1466L800 1466Z" transform="translate(357.38,524.70) scale(0.00796,-0.00796)" fill="#000"/>
<line x1="469.33" y1="502.3" x2="469.33" y2="495.40000000000003" stroke="#1a1a1a" stroke-width="2.2"/>
<line x1="469.33" y1="302.3" x2="469.33" y2="309.2" stroke="#1a1a1a" stroke-width="2.2"/>
<text x="469.03" y="524.70" class="tk" text-anchor="middle">20</text>
<line x1="571.92" y1="502.3" x2="571.92" y2="495.40000000000003" stroke="#1a1a1a" stroke-width="2.2"/>
<line x1="571.92" y1="302.3" x2="571.92" y2="309.2" stroke="#1a1a1a" stroke-width="2.2"/>
<text x="571.62" y="524.70" class="tk" text-anchor="middle">25</text>
<line x1="674.50" y1="502.3" x2="674.50" y2="495.40000000000003" stroke="#1a1a1a" stroke-width="2.2"/>
<line x1="674.50" y1="302.3" x2="674.50" y2="309.2" stroke="#1a1a1a" stroke-width="2.2"/>
<text x="674.20" y="524.70" class="tk" text-anchor="middle">30</text>
<line x1="59.0" y1="302.30" x2="65.9" y2="302.30" stroke="#1a1a1a" stroke-width="2.2"/>
<line x1="674.5" y1="302.30" x2="667.6" y2="302.30" stroke="#1a1a1a" stroke-width="2.2"/>
<text x="53.20" y="309.20" class="tk" text-anchor="end">0.5</text>
<line x1="59.0" y1="347.75" x2="65.9" y2="347.75" stroke="#1a1a1a" stroke-width="2.2"/>
<line x1="674.5" y1="347.75" x2="667.6" y2="347.75" stroke="#1a1a1a" stroke-width="2.2"/>
<text x="53.20" y="354.65" class="tk" text-anchor="end">0</text>
<line x1="59.0" y1="393.21" x2="65.9" y2="393.21" stroke="#1a1a1a" stroke-width="2.2"/>
<line x1="674.5" y1="393.21" x2="667.6" y2="393.21" stroke="#1a1a1a" stroke-width="2.2"/>
<text x="53.20" y="400.11" class="tk" text-anchor="end">-0.5</text>
<line x1="59.0" y1="438.66" x2="65.9" y2="438.66" stroke="#1a1a1a" stroke-width="2.2"/>
<line x1="674.5" y1="438.66" x2="667.6" y2="438.66" stroke="#1a1a1a" stroke-width="2.2"/>
<text x="53.20" y="445.56" class="tk" text-anchor="end">- </text>
<path d="M800 0L520 0L520 1052C440 977 300 893 150 848L150 1102C230 1128 320 1175 410 1245C500 1315 555 1390 580 1466L800 1466Z" transform="translate(44.13,445.56) scale(0.00796,-0.00796)" fill="#000"/>
<line x1="59.0" y1="484.12" x2="65.9" y2="484.12" stroke="#1a1a1a" stroke-width="2.2"/>
<line x1="674.5" y1="484.12" x2="667.6" y2="484.12" stroke="#1a1a1a" stroke-width="2.2"/>
<text x="53.20" y="491.02" class="tk" text-anchor="end">- .5</text>
<path d="M800 0L520 0L520 1052C440 977 300 893 150 848L150 1102C230 1128 320 1175 410 1245C500 1315 555 1390 580 1466L800 1466Z" transform="translate(30.54,491.02) scale(0.00796,-0.00796)" fill="#000"/>
<text x="366.6" y="297.70" class="tl" text-anchor="middle">Without Uncertainty</text>
<text x="366.6" y="548.70" class="tl" text-anchor="middle">Time (t)</text>
<text x="0" y="0" class="tl" text-anchor="middle" transform="translate(16.6,402.30) rotate(-90)">State responses</text>
<path d="M59.30,424.50 L59.33,424.60 L59.35,424.70 L59.38,424.79 L59.40,424.88 L59.43,424.97 L59.46,425.06 L59.48,425.15 L59.51,425.26 L59.53,425.37 L59.55,425.50 L59.58,425.64 L59.60,425.80 L59.67,426.49 L59.72,427.39 L59.77,428.46 L59.80,429.67 L59.83,431.01 L59.85,432.45 L59.88,433.95 L59.90,435.50 L59.92,437.06 L59.94,438.62 L59.97,440.14 L60.00,441.60 L60.04,443.30 L60.09,445.07 L60.13,446.88 L60.18,448.74 L60.23,450.61 L60.27,452.50 L60.32,454.38 L60.37,456.25 L60.43,458.09 L60.48,459.89 L60.54,461.63 L60.60,463.30 L60.65,464.63 L60.70,465.94 L60.75,467.22 L60.81,468.48 L60.86,469.72 L60.92,470.94 L60.98,472.15 L61.03,473.34 L61.10,474.52 L61.16,475.69 L61.23,476.85 L61.30,478.00 L61.36,479.02 L61.42,480.04 L61.49,481.07 L61.55,482.08 L61.61,483.09 L61.68,484.08 L61.75,485.05 L61.82,486.01 L61.91,486.93 L62.00,487.82 L62.09,488.68 L62.20,489.50 L62.28,490.09 L62.35,490.71 L62.42,491.35 L62.50,491.98 L62.57,492.59 L62.66,493.19 L62.75,493.73 L62.85,494.23 L62.96,494.66 L63.09,495.00 L63.23,495.26 L63.40,495.40 L63.49,495.43 L63.58,495.44 L63.68,495.44 L63.78,495.41 L63.89,495.38 L63.99,495.32 L64.10,495.26 L64.21,495.19 L64.31,495.10 L64.41,495.01 L64.51,494.91 L64.60,494.80 L64.78,494.53 L64.94,494.19 L65.08,493.79 L65.21,493.33 L65.33,492.83 L65.44,492.29 L65.54,491.71 L65.64,491.10 L65.75,490.47 L65.86,489.83 L65.97,489.17 L66.10,488.50 L66.33,487.30 L66.57,485.98 L66.82,484.55 L67.08,483.03 L67.34,481.45 L67.60,479.82 L67.86,478.16 L68.12,476.48 L68.37,474.81 L68.62,473.16 L68.87,471.55 L69.10,470.00 L69.32,468.55 L69.53,467.11 L69.74,465.67 L69.94,464.24 L70.15,462.81 L70.34,461.38 L70.54,459.96 L70.74,458.54 L70.93,457.13 L71.12,455.72 L71.31,454.31 L71.50,452.90 L71.68,451.54 L71.86,450.18 L72.04,448.82 L72.21,447.47 L72.39,446.12 L72.56,444.77 L72.73,443.43 L72.90,442.08 L73.07,440.74 L73.25,439.39 L73.42,438.05 L73.60,436.70 L73.78,435.35 L73.96,434.00 L74.13,432.65 L74.31,431.29 L74.49,429.94 L74.67,428.59 L74.85,427.24 L75.03,425.89 L75.22,424.54 L75.41,423.19 L75.60,421.85 L75.80,420.50 L76.00,419.16 L76.20,417.82 L76.41,416.47 L76.62,415.13 L76.83,413.79 L77.04,412.45 L77.26,411.11 L77.48,409.77 L77.70,408.45 L77.93,407.12 L78.16,405.81 L78.40,404.50 L78.63,403.24 L78.87,401.98 L79.11,400.71 L79.35,399.44 L79.60,398.17 L79.85,396.92 L80.10,395.67 L80.36,394.45 L80.62,393.24 L80.88,392.06 L81.14,390.92 L81.40,389.80 L81.62,388.91 L81.83,388.04 L82.05,387.19 L82.27,386.35 L82.50,385.53 L82.72,384.73 L82.94,383.93 L83.17,383.14 L83.40,382.35 L83.63,381.57 L83.86,380.79 L84.10,380.00 L84.32,379.26 L84.55,378.52 L84.77,377.79 L84.99,377.06 L85.22,376.34 L85.45,375.62 L85.68,374.90 L85.91,374.19 L86.15,373.48 L86.40,372.78 L86.65,372.09 L86.90,371.40 L87.15,370.75 L87.39,370.10 L87.65,369.46 L87.90,368.82 L88.16,368.19 L88.42,367.56 L88.69,366.93 L88.96,366.31 L89.24,365.70 L89.52,365.09 L89.81,364.49 L90.10,363.90 L90.38,363.34 L90.67,362.79 L90.95,362.23 L91.24,361.68 L91.54,361.14 L91.84,360.60 L92.15,360.07 L92.46,359.55 L92.78,359.04 L93.11,358.55 L93.45,358.07 L93.80,357.60 L94.13,357.18 L94.47,356.77 L94.81,356.36 L95.16,355.97 L95.52,355.58 L95.88,355.20 L96.25,354.84 L96.63,354.48 L97.01,354.14 L97.40,353.81 L97.80,353.50 L98.20,353.20 L98.59,352.93 L99.00,352.67 L99.41,352.43 L99.83,352.20 L100.26,351.99 L100.69,351.78 L101.12,351.58 L101.56,351.39 L102.00,351.21 L102.43,351.04 L102.87,350.87 L103.30,350.70 L103.71,350.55 L104.12,350.41 L104.53,350.28 L104.94,350.16 L105.36,350.04 L105.77,349.93 L106.18,349.82 L106.60,349.72 L107.02,349.62 L107.44,349.51 L107.87,349.41 L108.30,349.30 L108.76,349.18 L109.22,349.07 L109.67,348.95 L110.13,348.84 L110.60,348.72 L111.07,348.61 L111.54,348.50 L112.01,348.40 L112.50,348.29 L112.99,348.19 L113.49,348.09 L114.00,348.00 L114.60,347.90 L115.20,347.79 L115.81,347.70 L116.43,347.60 L117.05,347.51 L117.69,347.42 L118.34,347.34 L119.00,347.26 L119.67,347.19 L120.36,347.12 L121.07,347.06 L121.80,347.00 L122.76,346.93 L123.75,346.88 L124.76,346.83 L125.79,346.80 L126.84,346.77 L127.92,346.75 L129.03,346.73 L130.16,346.72 L131.32,346.71 L132.52,346.71 L133.74,346.70 L135.00,346.70 L136.79,346.70 L138.64,346.71 L140.56,346.74 L142.53,346.77 L144.56,346.80 L146.64,346.85 L148.77,346.89 L150.94,346.94 L153.15,346.98 L155.40,347.03 L157.69,347.07 L160.00,347.10 L162.98,347.14 L166.03,347.18 L169.15,347.21 L172.34,347.25 L175.59,347.29 L178.91,347.32 L182.29,347.35 L185.72,347.39 L189.21,347.42 L192.76,347.45 L196.35,347.47 L200.00,347.50 L204.40,347.53 L208.68,347.55 L212.89,347.57 L217.11,347.59 L221.41,347.61 L225.88,347.63 L230.57,347.64 L235.56,347.65 L240.93,347.66 L246.74,347.68 L253.08,347.69 L260.00,347.70 L281.52,347.73 L307.55,347.75 L337.47,347.77 L370.61,347.78 L406.33,347.79 L444.00,347.79 L482.95,347.79 L522.55,347.79 L562.16,347.79 L601.11,347.79 L638.77,347.79 L674.50,347.80" fill="none" stroke="#0072BD" stroke-width="3.7" stroke-linejoin="round" stroke-linecap="butt" clip-path="url(#c2)"/>
<path d="M59.00,347.70 L59.02,350.39 L59.05,353.07 L59.07,355.74 L59.09,358.42 L59.12,361.09 L59.14,363.77 L59.16,366.45 L59.19,369.14 L59.21,371.83 L59.24,374.54 L59.27,377.26 L59.30,380.00 L59.33,382.94 L59.36,386.02 L59.39,389.19 L59.42,392.41 L59.45,395.64 L59.48,398.84 L59.52,401.97 L59.56,404.98 L59.61,407.83 L59.66,410.48 L59.73,412.88 L59.80,415.00 L59.84,415.96 L59.89,416.84 L59.93,417.67 L59.98,418.44 L60.03,419.17 L60.09,419.87 L60.14,420.55 L60.19,421.22 L60.24,421.89 L60.30,422.57 L60.35,423.27 L60.40,424.00 L60.46,422.41 L60.52,420.81 L60.57,419.20 L60.63,417.58 L60.69,415.97 L60.74,414.36 L60.80,412.76 L60.86,411.17 L60.92,409.59 L60.98,408.04 L61.04,406.50 L61.10,405.00 L61.16,403.70 L61.21,402.45 L61.27,401.23 L61.33,400.04 L61.39,398.86 L61.45,397.68 L61.51,396.49 L61.57,395.28 L61.63,394.04 L61.68,392.75 L61.74,391.41 L61.80,390.00 L61.88,387.93 L61.95,385.70 L62.02,383.34 L62.10,380.88 L62.17,378.36 L62.24,375.81 L62.31,373.28 L62.39,370.79 L62.46,368.38 L62.54,366.09 L62.62,363.95 L62.70,362.00 L62.75,360.83 L62.81,359.72 L62.86,358.67 L62.91,357.66 L62.96,356.69 L63.01,355.74 L63.07,354.81 L63.13,353.88 L63.19,352.95 L63.25,351.99 L63.32,351.02 L63.40,350.00 L63.49,348.87 L63.58,347.73 L63.68,346.57 L63.79,345.40 L63.90,344.23 L64.01,343.05 L64.12,341.87 L64.24,340.69 L64.35,339.51 L64.47,338.33 L64.59,337.16 L64.70,336.00 L64.81,334.86 L64.92,333.70 L65.04,332.54 L65.15,331.38 L65.26,330.22 L65.38,329.06 L65.50,327.92 L65.61,326.79 L65.73,325.68 L65.85,324.59 L65.98,323.53 L66.10,322.50 L66.20,321.68 L66.30,320.86 L66.40,320.05 L66.50,319.26 L66.60,318.47 L66.70,317.70 L66.80,316.95 L66.91,316.22 L67.02,315.50 L67.14,314.81 L67.27,314.14 L67.40,313.50 L67.50,313.03 L67.59,312.56 L67.68,312.09 L67.77,311.63 L67.87,311.18 L67.97,310.74 L68.07,310.33 L68.19,309.93 L68.32,309.57 L68.46,309.24 L68.62,308.95 L68.80,308.70 L68.93,308.56 L69.06,308.43 L69.20,308.31 L69.35,308.20 L69.50,308.10 L69.66,308.02 L69.82,307.95 L69.98,307.89 L70.14,307.84 L70.30,307.81 L70.45,307.80 L70.60,307.80 L70.75,307.82 L70.91,307.86 L71.06,307.92 L71.22,307.99 L71.38,308.08 L71.53,308.19 L71.68,308.30 L71.83,308.43 L71.98,308.56 L72.12,308.70 L72.26,308.85 L72.40,309.00 L72.58,309.22 L72.75,309.46 L72.91,309.73 L73.06,310.01 L73.21,310.32 L73.36,310.63 L73.50,310.95 L73.64,311.28 L73.78,311.61 L73.92,311.95 L74.06,312.28 L74.20,312.60 L74.36,312.95 L74.51,313.31 L74.66,313.68 L74.81,314.04 L74.95,314.41 L75.10,314.79 L75.25,315.17 L75.39,315.55 L75.54,315.93 L75.69,316.32 L75.84,316.71 L76.00,317.10 L76.17,317.53 L76.35,317.97 L76.53,318.42 L76.71,318.86 L76.90,319.32 L77.08,319.77 L77.26,320.23 L77.45,320.68 L77.64,321.14 L77.83,321.60 L78.01,322.05 L78.20,322.50 L78.39,322.95 L78.57,323.40 L78.76,323.85 L78.95,324.30 L79.13,324.76 L79.32,325.21 L79.51,325.66 L79.70,326.11 L79.90,326.56 L80.09,327.00 L80.30,327.45 L80.50,327.90 L80.71,328.35 L80.92,328.81 L81.13,329.26 L81.34,329.71 L81.56,330.17 L81.78,330.62 L82.00,331.07 L82.23,331.52 L82.46,331.97 L82.70,332.41 L82.95,332.86 L83.20,333.30 L83.47,333.76 L83.74,334.22 L84.02,334.69 L84.30,335.15 L84.59,335.61 L84.89,336.07 L85.19,336.53 L85.50,336.98 L85.81,337.42 L86.13,337.86 L86.46,338.28 L86.80,338.70 L87.14,339.10 L87.49,339.50 L87.85,339.90 L88.21,340.29 L88.59,340.67 L88.96,341.04 L89.35,341.41 L89.73,341.77 L90.12,342.12 L90.51,342.46 L90.91,342.79 L91.30,343.10 L91.66,343.38 L92.03,343.65 L92.40,343.91 L92.77,344.16 L93.15,344.40 L93.53,344.64 L93.90,344.86 L94.28,345.08 L94.66,345.30 L95.04,345.50 L95.42,345.71 L95.80,345.90 L96.15,346.07 L96.49,346.24 L96.83,346.39 L97.17,346.54 L97.51,346.68 L97.85,346.82 L98.20,346.95 L98.55,347.09 L98.90,347.21 L99.26,347.34 L99.63,347.47 L100.00,347.60 L100.43,347.75 L100.86,347.90 L101.30,348.05 L101.74,348.20 L102.19,348.34 L102.64,348.49 L103.10,348.63 L103.58,348.76 L104.06,348.88 L104.56,349.00 L105.07,349.10 L105.60,349.20 L106.30,349.31 L107.03,349.39 L107.78,349.46 L108.55,349.52 L109.34,349.57 L110.15,349.60 L110.97,349.63 L111.81,349.65 L112.67,349.66 L113.53,349.68 L114.41,349.69 L115.30,349.70 L116.41,349.71 L117.55,349.71 L118.71,349.70 L119.89,349.68 L121.09,349.65 L122.32,349.62 L123.56,349.58 L124.82,349.55 L126.09,349.51 L127.38,349.47 L128.69,349.43 L130.00,349.40 L131.55,349.36 L133.11,349.33 L134.69,349.29 L136.29,349.24 L137.91,349.20 L139.56,349.16 L141.22,349.12 L142.92,349.07 L144.64,349.03 L146.40,348.98 L148.18,348.94 L150.00,348.90 L152.26,348.85 L154.56,348.80 L156.90,348.74 L159.27,348.69 L161.68,348.64 L164.14,348.58 L166.65,348.53 L169.21,348.48 L171.82,348.43 L174.49,348.39 L177.21,348.34 L180.00,348.30 L183.70,348.25 L187.50,348.21 L191.41,348.16 L195.41,348.12 L199.51,348.09 L203.68,348.06 L207.93,348.02 L212.24,348.00 L216.61,347.97 L221.03,347.95 L225.50,347.92 L230.00,347.90 L235.25,347.88 L240.34,347.86 L245.37,347.85 L250.41,347.83 L255.52,347.83 L260.80,347.82 L266.30,347.82 L272.12,347.81 L278.32,347.81 L284.99,347.81 L292.19,347.80 L300.00,347.80 L320.82,347.79 L345.24,347.78 L372.75,347.78 L402.84,347.78 L435.00,347.78 L468.70,347.78 L503.43,347.78 L538.67,347.79 L573.92,347.79 L608.65,347.80 L642.35,347.80 L674.50,347.80" fill="none" stroke="#D95319" stroke-width="3.7" stroke-linejoin="round" stroke-linecap="butt" clip-path="url(#c2)"/>
<rect x="556.2" y="433.5" width="103.7" height="57.80000000000001" fill="#fff" stroke="#1a1a1a" stroke-width="2.3"/>
<line x1="561.5" y1="449.2" x2="618.8" y2="449.2" stroke="#0072BD" stroke-width="3.7"/>
<line x1="561.5" y1="476.1" x2="618.8" y2="476.1" stroke="#D95319" stroke-width="3.7"/>
<text x="623.1" y="451.80" class="lg">x<tspan class="sb" dx="0.9" dy="7"> </tspan><tspan dx="1.2" dy="-7">(t)</tspan></text>
<path d="M800 0L520 0L520 1052C440 977 300 893 150 848L150 1102C230 1128 320 1175 410 1245C500 1315 555 1390 580 1466L800 1466Z" transform="translate(632.01,458.80) scale(0.00552,-0.00552)" fill="#000"/>
<text x="623.1" y="478.70" class="lg">x<tspan class="sb" dx="0.9" dy="7">2</tspan><tspan dx="1.2" dy="-7">(t)</tspan></text>
</svg>
</body></html>
